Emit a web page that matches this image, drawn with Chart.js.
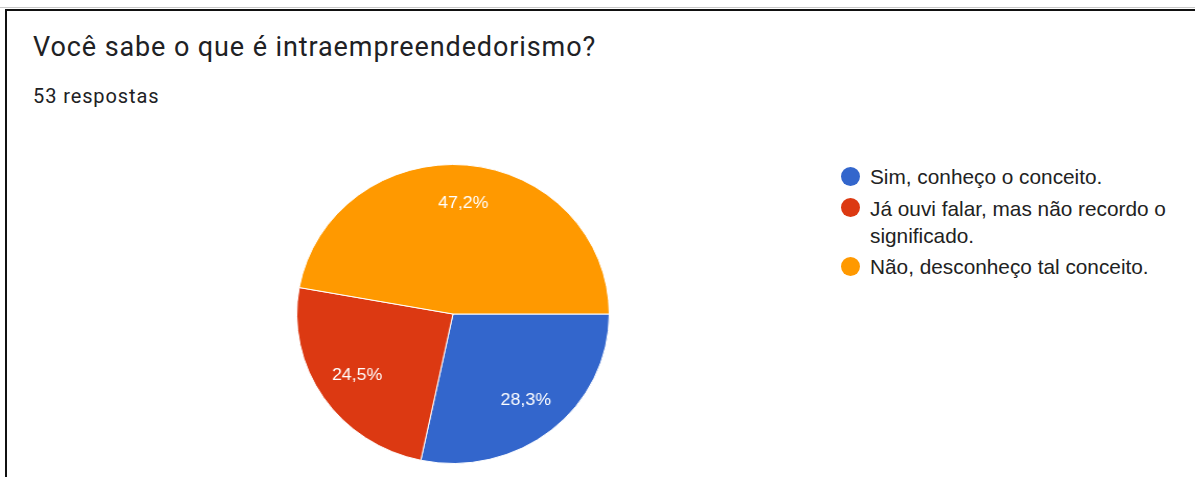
<!DOCTYPE html>
<html>
<head>
<meta charset="utf-8">
<script src="https://cdn.jsdelivr.net/npm/chart.js@4"></script>
<style>
  html, body { margin: 0; padding: 0; background: #fff; }
  body { width: 1195px; height: 477px; position: relative; overflow: hidden; font-family: Roboto, Arial, sans-serif; }
  .rule-gray { position: absolute; left: 0; top: 7px; width: 1195px; height: 1px; background: #c8c8c8; }
  .rule-top { position: absolute; left: 5px; top: 9px; width: 1190px; height: 2px; background: #111; }
  .rule-left { position: absolute; left: 5px; top: 9px; width: 2px; height: 468px; background: #111; }
  .title { position: absolute; left: 33px; top: 31px; font-size: 27px; letter-spacing: 0.9px; color: #202124; white-space: nowrap; }
  .count { position: absolute; left: 33px; top: 84px; font-size: 20px; letter-spacing: 0.9px; color: #202124; white-space: nowrap; }
  .pie-box { position: absolute; left: 303px; top: 164px; width: 300px; height: 300px; transform: scaleX(1.045); transform-origin: 150px 150px; }
  .legend { position: absolute; left: 841px; top: 163px; width: 340px; font: 20.8px "Liberation Sans", Arial, sans-serif; color: #222; }
  .legend .item { position: relative; padding-left: 29px; line-height: 27px; margin-bottom: 4.7px; }
  .legend .dot { position: absolute; left: 0; top: 3.5px; width: 19px; height: 19px; border-radius: 50%; }
</style>
</head>
<body>
<div class="rule-gray"></div>
<div class="rule-top"></div>
<div class="rule-left"></div>
<div class="title">Você sabe o que é intraempreendedorismo?</div>
<div class="count">53 respostas</div>
<div class="pie-box"><canvas id="pieChart"></canvas></div>
<div class="legend" id="legend"></div>

<script>
// Dados
const categorias = ['Sim, conheço o conceito.', 'Já ouvi falar, mas não recordo o significado.', 'Não, desconheço tal conceito.'];
const respostas = [15, 13, 25];
const cores = ['#3366cc', '#dc3912', '#ff9900'];

const total = respostas.reduce((a, b) => a + b, 0);

// legenda em HTML (quebra de linha como no original)
const legend = document.getElementById('legend');
categorias.forEach((nome, i) => {
  const item = document.createElement('div');
  item.className = 'item';
  item.innerHTML = `<span class="dot" style="background:${cores[i]}"></span>${nome}`;
  legend.appendChild(item);
});

// rótulos de percentagem dentro das fatias
const percentLabels = {
  id: 'percentLabels',
  afterDatasetsDraw(chart) {
    const { ctx } = chart;
    const meta = chart.getDatasetMeta(0);
    ctx.save();
    ctx.fillStyle = '#ffffff';
    ctx.font = '17px "Liberation Sans", Arial, sans-serif';
    ctx.textAlign = 'center';
    ctx.textBaseline = 'middle';
    meta.data.forEach((arc, i) => {
      const { x, y, startAngle, endAngle, outerRadius } = arc.getProps(['x', 'y', 'startAngle', 'endAngle', 'outerRadius'], true);
      const mid = (startAngle + endAngle) / 2;
      const r = outerRadius * 0.74;
      const pct = (respostas[i] / total * 100).toFixed(1).replace('.', ',') + '%';
      ctx.fillText(pct, x + Math.cos(mid) * r, y + Math.sin(mid) * r);
    });
    ctx.restore();
  }
};

new Chart(document.getElementById('pieChart').getContext('2d'), {
  type: 'pie',
  data: {
    labels: categorias,
    datasets: [{
      data: respostas,
      backgroundColor: cores,
      borderColor: '#ffffff',
      borderWidth: 1,
    }],
  },
  options: {
    responsive: true,
    maintainAspectRatio: false,
    animation: false,
    rotation: 90,
    layout: { padding: 0 },
    plugins: {
      legend: { display: false },
      tooltip: { enabled: false },
    },
  },
  plugins: [percentLabels],
});
</script>
</body>
</html>
